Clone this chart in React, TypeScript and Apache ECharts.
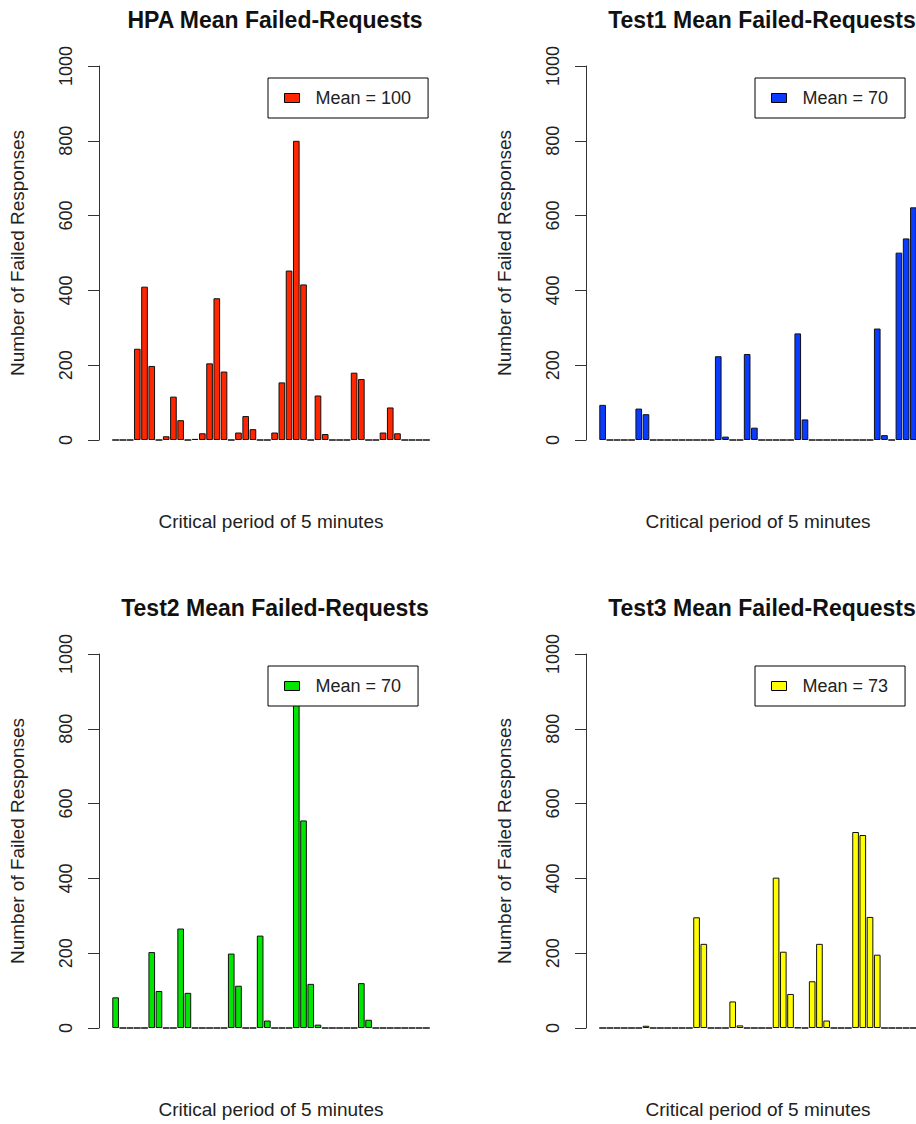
import React, { useEffect, useRef } from "react";
import * as echarts from "echarts";

const periods = [
  "1","2","3","4","5","6","7","8","9","10","11","12","13","14","15","16","17","18","19","20","21","22",
  "23","24","25","26","27","28","29","30","31","32","33","34","35","36","37","38","39","40","41","42","43","44",
];

const hpaValues = [
  0, 0, 0, 244, 410, 198, 0, 10, 116, 53, 0, 3, 18, 205, 379, 183, 0, 20, 64, 29, 0, 0,
  20, 154, 453, 800, 416, 0, 119, 16, 0, 0, 0, 180, 163, 0, 0, 20, 87, 18, 0, 0, 0, 0,
];
const test1Values = [
  94, 0, 0, 0, 0, 84, 69, 0, 0, 0, 0, 0, 0, 0, 0, 0, 224, 9, 0, 0, 230, 33,
  0, 0, 0, 0, 0, 285, 55, 0, 0, 0, 0, 0, 0, 0, 0, 0, 298, 13, 0, 501, 539, 622,
];
const test2Values = [
  82, 0, 0, 0, 0, 203, 99, 0, 0, 266, 94, 0, 0, 0, 0, 0, 199, 113, 0, 0, 247, 20,
  0, 0, 0, 930, 555, 118, 9, 0, 0, 0, 0, 0, 120, 22, 0, 0, 0, 0, 0, 0, 0, 0,
];
const test3Values = [
  0, 0, 0, 0, 0, 0, 6, 0, 0, 0, 0, 0, 0, 296, 225, 0, 0, 0, 71, 7, 0, 0,
  0, 0, 402, 204, 91, 1, 0, 125, 225, 20, 0, 0, 0, 524, 516, 297, 196, 0, 0, 0, 0, 0,
];

const titles = [
  "HPA Mean Failed-Requests",
  "Test1 Mean Failed-Requests",
  "Test2 Mean Failed-Requests",
  "Test3 Mean Failed-Requests",
];
const legendLabels = ["Mean = 100", "Mean = 70", "Mean = 70", "Mean = 73"];
const colors = ["#FF2600", "#0A3CFF", "#00E600", "#FFFF00"];
const yTicks = [0, 200, 400, 600, 800, 1000];
const xAxisTitle = "Critical period of 5 minutes";
const yAxisTitle = "Number of Failed Responses";

const FONT = "Liberation Sans, Arial, Helvetica, sans-serif";

export default function App() {
  const ref = useRef<HTMLDivElement>(null);

  useEffect(() => {
    if (!ref.current) return;
    const chart = echarts.init(ref.current, undefined, { renderer: "svg" });
    const seriesData = [hpaValues, test1Values, test2Values, test3Values];
    const panels = [
      { left: 112, top: 66 },
      { left: 599, top: 66 },
      { left: 112, top: 654 },
      { left: 599, top: 654 },
    ];
    const gw = 318;
    const gh = 374;

    const option: any = {
      animation: false,
      backgroundColor: "#fff",
      title: panels.map((p, i) => ({
        text: titles[i],
        left: p.left + gw / 2 - 1,
        top: p.top - 63,
        textAlign: "center",
        textStyle: { fontSize: 23, fontWeight: "bold", color: "#111", fontFamily: FONT },
      })),
      legend: panels.map((p, i) => ({
        left: p.left + 156,
        top: p.top + 12,
        orient: "vertical",
        selectedMode: false,
        backgroundColor: "#fff",
        borderColor: "#000",
        borderWidth: 1,
        borderRadius: 0,
        padding: [11, 17, 11, 16],
        itemWidth: 15,
        itemHeight: 9,
        icon: "rect",
        data: [
          {
            name: legendLabels[i],
            icon: "rect",
            itemStyle: { color: colors[i], borderColor: "#000", borderWidth: 1 },
          },
        ],
        textStyle: {
          fontSize: 18,
          color: "#222",
          fontFamily: FONT,
          padding: [0, 0, 0, 11],
        },
      })),
      grid: panels.map((p) => ({
        left: p.left,
        top: p.top,
        width: gw,
        height: gh,
        containLabel: false,
        outerBoundsMode: "none",
      })),
      xAxis: panels.map((_, i) => ({
        type: "category",
        gridIndex: i,
        data: periods,
        boundaryGap: true,
        axisLine: { show: false },
        axisTick: { show: false },
        axisLabel: { show: false },
        splitLine: { show: false },
        name: xAxisTitle,
        nameLocation: "middle",
        nameGap: 72,
        nameTextStyle: { fontSize: 19, color: "#222", fontFamily: FONT },
      })),
      yAxis: panels.map((_, i) => ({
        type: "value",
        gridIndex: i,
        min: 0,
        max: 1000,
        interval: 200,
        offset: 13,
        axisLine: { show: true, lineStyle: { color: "#333", width: 1 } },
        axisTick: { show: true, inside: false, length: 11, lineStyle: { color: "#333", width: 1 } },
        axisLabel: {
          show: true,
          rotate: 90,
          margin: 24,
          fontSize: 18,
          color: "#222",
          fontFamily: FONT,
          customValues: yTicks,
          formatter: (v: number) => String(v),
        },
        splitLine: { show: false },
        name: yAxisTitle,
        nameLocation: "middle",
        nameRotate: 90,
        nameGap: 72,
        nameTextStyle: { fontSize: 19, color: "#222", fontFamily: FONT },
      })),
      series: panels.map((_, i) => ({
        type: "bar",
        name: legendLabels[i],
        xAxisIndex: i,
        yAxisIndex: i,
        data: seriesData[i],
        barCategoryGap: "8%",
        itemStyle: { color: colors[i], borderColor: "#111", borderWidth: 1 },
        emphasis: { disabled: true },
      })),
    };

    chart.setOption(option);
    return () => {
      chart.dispose();
    };
  }, []);

  return (
    <div
      ref={ref}
      style={{ position: "absolute", left: 0, top: 0, width: 916, height: 1124, background: "#fff" }}
    />
  );
}
